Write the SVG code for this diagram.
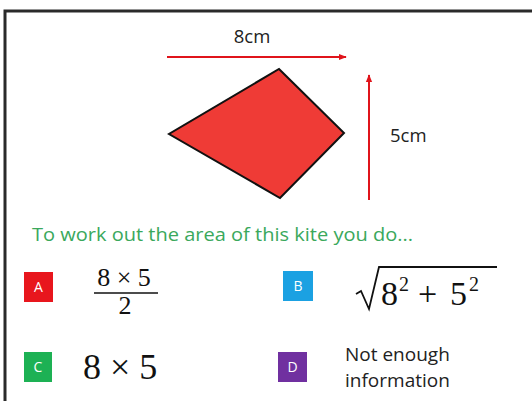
<svg xmlns="http://www.w3.org/2000/svg" width="532" height="401" viewBox="0 0 532 401">
<defs>
<style>
.sans{font-family:"Open Sans","Liberation Sans",sans-serif;fill:#222}
.math{font-family:"Liberation Serif","DejaVu Serif",serif;fill:#111}
.lbl{font-family:"Open Sans","Liberation Sans",sans-serif;font-size:14px;fill:#fff;text-anchor:middle}
.arrow{stroke:#e0141b;stroke-width:2;fill:none}
</style>
<marker id="ah" viewBox="0 0 10 10" refX="9" refY="5" markerWidth="4" markerHeight="4" orient="auto"><path d="M0,1 L10,5 L0,9 z" fill="#e0141b"/></marker>
</defs>
<rect width="532" height="401" fill="#fff"/>
<path d="M5,401 V11 H532" fill="none" stroke="#2a2a2a" stroke-width="3"/>
<g id="kite">
<polygon points="279,69 344,133 280,198 169,134" fill="#ef3b36" stroke="#111" stroke-width="2" stroke-linejoin="miter"/>
</g>
<g id="connectors">
<line class="arrow" x1="167" y1="57" x2="346" y2="57" marker-end="url(#ah)"/>
<line class="arrow" x1="369" y1="200" x2="369" y2="75" marker-end="url(#ah)"/>
</g>
<g id="dims">
<text class="sans" x="252" y="43" font-size="18.5" text-anchor="middle">8cm</text>
<text class="sans" x="390" y="142" font-size="18.5">5cm</text>
</g>
<g id="question">
<text x="32" y="241" font-family="'Open Sans','Liberation Sans',sans-serif" font-size="18" fill="#3aa85c" textLength="381" lengthAdjust="spacingAndGlyphs">To work out the area of this kite you do...</text>
</g>
<g id="optA">
<rect x="24" y="272" width="29" height="30" fill="#e8161d"/>
<text class="lbl" x="38.5" y="292">A</text>
<text class="math" x="124" y="286" font-size="26" text-anchor="middle">8 × 5</text>
<line x1="94" y1="293" x2="158" y2="293" stroke="#111" stroke-width="1.5"/>
<text class="math" x="125" y="314" font-size="26" text-anchor="middle">2</text>
</g>
<g id="optB">
<rect x="283" y="271" width="30" height="30" fill="#1ba1e2"/>
<text class="lbl" x="298" y="291">B</text>
<path d="M356,294 L361,291 L369,309 L379,267 H497" fill="none" stroke="#111" stroke-width="1.8"/>
<text class="math" y="305" font-size="34"><tspan x="381">8</tspan><tspan x="399" y="291" font-size="20">2</tspan><tspan x="418" y="305">+</tspan><tspan x="450">5</tspan><tspan x="469" y="291" font-size="20">2</tspan></text>
</g>
<g id="optC">
<rect x="24" y="352" width="28" height="30" fill="#1db154"/>
<text class="lbl" x="38" y="372">C</text>
<text class="math" x="83" y="379" font-size="36">8 × 5</text>
</g>
<g id="optD">
<rect x="278" y="352" width="29" height="30" fill="#7030a0"/>
<text class="lbl" x="292.5" y="372">D</text>
<text class="sans" x="345" y="361" font-size="19">Not enough</text>
<text class="sans" x="345" y="387" font-size="19">information</text>
</g>
</svg>
